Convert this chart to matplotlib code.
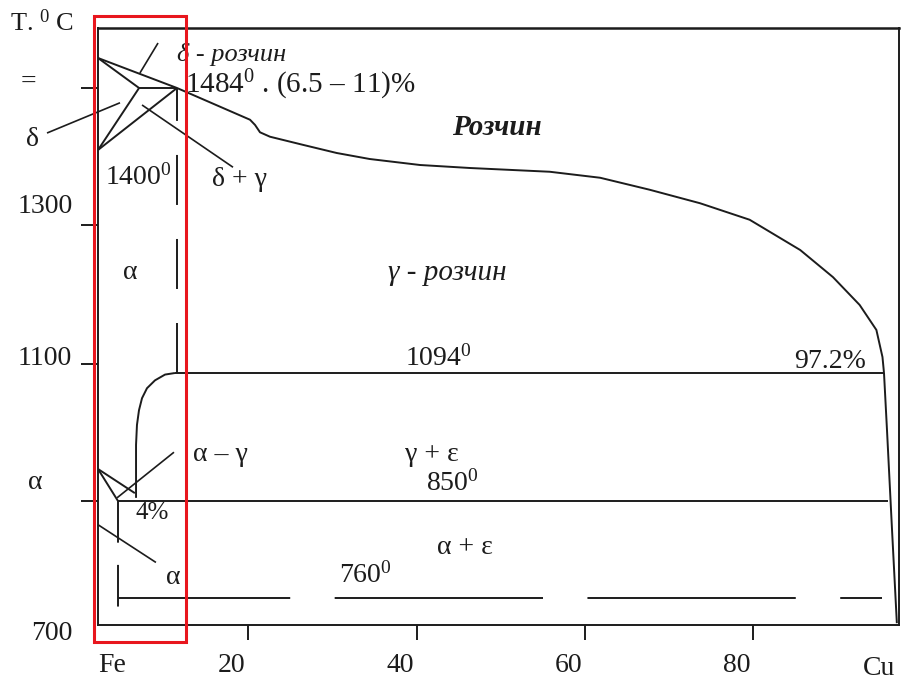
import numpy as np
import matplotlib
matplotlib.use("Agg")
import matplotlib.pyplot as plt
from matplotlib.patches import Rectangle

plt.rcParams['font.family'] = ['Liberation Serif', 'DejaVu Serif']
plt.rcParams['mathtext.fontset'] = 'custom'
plt.rcParams['mathtext.rm'] = 'Liberation Serif'
plt.rcParams['mathtext.it'] = 'Liberation Serif:italic'
plt.rcParams['lines.scale_dashes'] = False

# Axis calibration of the printed Fe-Cu diagram (piecewise-linear graduations)
comp_knots = [-50, 0, 4, 11, 20, 40, 60, 80, 97.2, 100, 150]
comp_scale = [-152, 98, 118, 177, 248, 417, 585, 753, 884, 899, 1167]
temp_knots = [0, 700, 760, 850, 1094, 1100, 1300, 1400, 1484, 1560, 2500]
temp_scale = [-315, 0, 27, 124, 252, 261, 400, 475, 537, 597, 1340]

# Liquidus: from the melting point of iron through the peritectic to copper
liq_x = [0, 11, 20.24, 20.83, 21.42, 22.6, 26.5, 30.5, 34.4, 40.36, 46.3,
         55.8, 61.8, 67.7, 73.7, 79.6, 86.2, 90.5, 94.0, 96.2, 97.0, 97.2]
liq_t = [1522, 1484, 1441, 1434, 1424, 1418, 1407, 1396, 1388, 1380, 1376,
         1371, 1363, 1347, 1329, 1307, 1264, 1225, 1185, 1149, 1110, 1094]

# delta region (solidus, peritectic isotherm, solvus lines)
dsol_x, dsol_t = [0, 6.5], [1522, 1484]
peri_x, peri_t = [6.5, 11], [1484, 1484]
dsolv_x, dsolv_t = [6.5, 0], [1484, 1400]
gbound_x, gbound_t = [11, 0], [1484, 1400]
pvert_x, pvert_t = [11, 11], [1484, 1443]
gdash_x, gdash_t = [11, 11], [1094, 1443]

# gamma solvus towards the eutectoid
gsolv_x = [10.76, 9.58, 8.39, 7.44, 6.85, 6.49, 6.25, 6.14, 6.14, 6.14]
gsolv_t = [1094, 1091, 1080, 1065, 1046, 1023, 995, 957, 909, 856]

# isotherms
iso1094_x, iso1094_t = [10.76, 97.2], [1094, 1094]
iso850_x, iso850_t = [4, 98.0], [850, 850]
iso760_x, iso760_t = [4, 97.0], [760, 760]

# copper-side solvus
eps_x = [97.2, 97.76, 98.7, 99.6]
eps_t = [1094, 985, 823, 704]

# alpha/gamma transformation near pure iron
a3_x, a3_t = [0, 4], [911, 850]
a3b_x, a3b_t = [0, 6.0], [911, 865]
v4_x, v4_t = [4, 4], [850, 738]

# leader lines
lead_delta_x, lead_delta_t = [-10.2, 4.24], [1423, 1464]
lead_dsol_x, lead_dsol_t = [8.75, 6.6], [1541, 1503]
lead_dg_x, lead_dg_t = [6.85, 18.1], [1461, 1377]
lead_ag_x, lead_ag_t = [10.64, 3.8], [943, 856]
lead_a_x, lead_a_t = [0, 8.5], [828, 793]

# highlighted iron-rich corner (composition and temperature bounds)
box_x = [-0.9, 12.2]
box_t = [663, 1575]

x_ticks = [20, 40, 60, 80]
x_tick_labels = ['20', '40', '60', '80']
y_ticks = [1484, 1300, 1100, 850]

W, H = 901, 681
fig = plt.figure(figsize=(W / 100, H / 100), dpi=100)
ax = fig.add_axes([98 / W, (H - 625) / H, (899 - 98) / W, (625 - 28) / H])


def comp_fwd(v):
    return np.interp(v, comp_knots, comp_scale)


def comp_inv(p):
    return np.interp(p, comp_scale, comp_knots)


def temp_fwd(v):
    return np.interp(v, temp_knots, temp_scale)


def temp_inv(p):
    return np.interp(p, temp_scale, temp_knots)


ax.set_xscale('function', functions=(comp_fwd, comp_inv))
ax.set_yscale('function', functions=(temp_fwd, temp_inv))
ax.set_xlim(0, 100)
ax.set_ylim(700, 1560)

INK = '#1c1c1c'
LW = 1.4
for s in ax.spines.values():
    s.set_color(INK)
    s.set_linewidth(LW)
ax.spines['top'].set_linewidth(1.8)


def line(xs, ts, **kw):
    kw.setdefault('color', INK)
    kw.setdefault('lw', LW)
    ax.plot(xs, ts, solid_capstyle='butt', **kw)


line(liq_x, liq_t)
line(dsol_x, dsol_t)
line(peri_x, peri_t)
line(dsolv_x, dsolv_t)
line(gbound_x, gbound_t)
line(pvert_x, pvert_t)
line(gdash_x, gdash_t, linestyle=(0, (36, 24.5)))
line(gsolv_x, gsolv_t)
line(iso1094_x, iso1094_t)
line(iso850_x, iso850_t)
line(iso760_x, iso760_t, linestyle=(26, (150, 32)))
line(eps_x, eps_t)
line(a3_x, a3_t)
line(a3b_x, a3b_t)
line(v4_x, v4_t, linestyle=(0, (30, 16)))
for lx, lt in [(lead_delta_x, lead_delta_t), (lead_dsol_x, lead_dsol_t),
               (lead_dg_x, lead_dg_t), (lead_ag_x, lead_ag_t),
               (lead_a_x, lead_a_t)]:
    line(lx, lt, lw=1.2, clip_on=False)

ax.add_patch(Rectangle((box_x[0], box_t[0]), box_x[1] - box_x[0],
                       box_t[1] - box_t[0], fill=False, edgecolor='#e8161e',
                       lw=2.2, clip_on=False, zorder=5))

# ticks
ax.set_xticks(x_ticks)
ax.set_xticklabels([])
ax.set_yticks(y_ticks)
ax.set_yticklabels([])
ax.minorticks_off()
ax.tick_params(axis='x', direction='out', length=11, width=LW, color=INK)
ax.tick_params(axis='y', direction='out', length=12, width=LW, color=INK)

FS = 20


def outer(text, x, t, dx, dy, xy_axis='y', **kw):
    tr = ax.get_yaxis_transform() if xy_axis == 'y' else ax.get_xaxis_transform()
    ax.annotate(text, xy=(x, t), xycoords=tr, xytext=(dx, dy),
                textcoords='offset points', ha='center', va='center',
                fontsize=kw.pop('fontsize', FS), color=INK,
                annotation_clip=False, **kw)


# temperature graduations (printed beside the ticks)
outer('=', 0, 1484, -50, 4)
outer('1300', 0, 1300, -38, 13)
outer('1100', 0, 1100, -38, 4)
outer('α', 0, 850, -45, 13)
outer('700', 0, 700, -33, -6)
outer('T. $^0$ C', 0, 1560, -40, 4, fontsize=19)
outer('δ', 0, 1414, -47, 0)

# composition graduations
for xv, lab in zip(x_ticks, x_tick_labels):
    outer(lab, xv, 0, -12, -29, xy_axis='x')
outer('Fe', 2.8, 0, 0, -29, xy_axis='x')
outer('Cu', 96.6, 0, 0, -31, xy_axis='x')


def put(x, t, s, **kw):
    kw.setdefault('fontsize', FS)
    kw.setdefault('ha', 'center')
    ax.text(x, t, s, va='center', color=INK, **kw)


put(11.0, 1526, 'δ - розчин', ha='left', style='italic', fontsize=19)
put(12.0, 1488, '1484$^0$ . (6.5 – 11)%', ha='left', fontsize=21)
put(49.5, 1430, 'Розчин', style='italic', weight='bold', fontsize=21)
put(1.4, 1363, '1400$^0$', ha='left')
put(18.86, 1360, 'δ + γ')
put(5.4, 1232, 'α')
put(43.6, 1231, 'γ - розчин', style='italic', fontsize=21)
put(42.5, 1108, '1094$^0$')
put(90.1, 1103, '97.2%')
put(16.45, 938, 'α – γ')
put(41.8, 938, 'γ + ε')
put(44.2, 884, '850$^0$')
put(8.0, 839, '4%', fontsize=18)
put(45.7, 807, 'α + ε')
put(33.85, 781, '760$^0$')
put(10.5, 779, 'α')

fig.savefig('out.png', dpi=100, facecolor='white')
